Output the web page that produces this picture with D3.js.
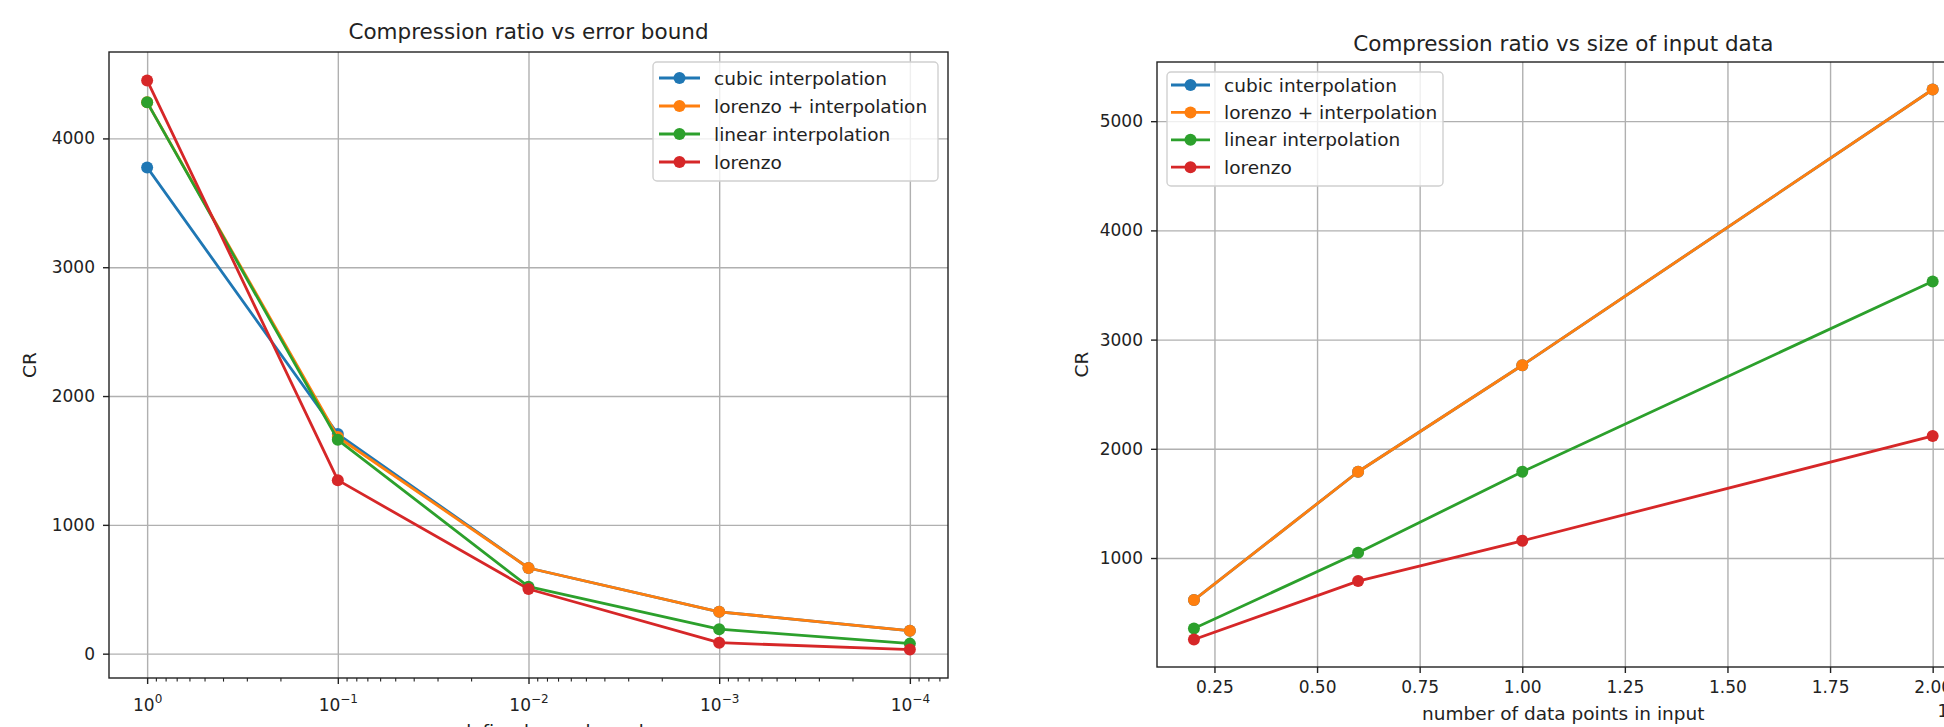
<!DOCTYPE html>
<html>
<head>
<meta charset="utf-8">
<script src="https://cdn.jsdelivr.net/npm/d3@7"></script>
<style>
  html, body { margin: 0; padding: 0; background: #fff; }
  svg { display: block; font-family: "DejaVu Sans", sans-serif; }
</style>
</head>
<body>
<script>
// ---------------- DATA ----------------
const seriesNames = ["cubic interpolation", "lorenzo + interpolation", "linear interpolation", "lorenzo"];
const seriesColors = ["#1f77b4", "#ff7f0e", "#2ca02c", "#d62728"];

// Left panel: CR vs error bound
const errorBounds = [1, 0.1, 0.01, 0.001, 0.0001];
const errCubic   = [3775, 1705, 665, 325, 178];
const errLorInt  = [4280, 1682, 665, 325, 178];
const errLinear  = [4280, 1660, 520, 190, 78];
const errLorenzo = [4450, 1347, 502, 85, 32];
const errTicksX = [1, 0.1, 0.01, 0.001, 0.0001];
const errTickExp = ["0", "\u22121", "\u22122", "\u22123", "\u22124"];
const errTicksY = [0, 1000, 2000, 3000, 4000];

// Right panel: CR vs size of input data (x in units of 1e6)
const inputSizes = [0.2, 0.6, 1.0, 2.0];
const sizeCubic   = [615, 1790, 2765, 5290];
const sizeLorInt  = [615, 1790, 2765, 5290];
const sizeLinear  = [355, 1048, 1790, 3533];
const sizeLorenzo = [254, 789, 1158, 2117];
const sizeTicksX = [0.25, 0.5, 0.75, 1.0, 1.25, 1.5, 1.75, 2.0];
const sizeTicksY = [1000, 2000, 3000, 4000, 5000];

// ---------------- STYLE ----------------
const TXT = "#222";
const GRID = "#b0b0b0";
const TICK_FS = 17, LEG_FS = 18.5, TITLE_FS = 21.5, LABEL_FS = 18.5;
const MARK_R = 6;

const svg = d3.select("body").append("svg").attr("width", 1944).attr("height", 727);

function yDomain(all) {
  const mn = d3.min(all), mx = d3.max(all), m = (mx - mn) * 0.05;
  return [mn - m, mx + m];
}

function drawPanel(cfg) {
  const g = svg.append("g");
  const { x, y, left, right, top, bottom } = cfg;

  // gridlines
  g.append("g").attr("transform", `translate(0,${bottom})`)
    .call(d3.axisBottom(x).tickValues(cfg.xTicks).tickSize(-(bottom - top)).tickFormat(""))
    .call(s => s.select(".domain").remove())
    .call(s => s.selectAll("line").attr("stroke", GRID).attr("stroke-width", 1.4));
  g.append("g").attr("transform", `translate(${left},0)`)
    .call(d3.axisLeft(y).tickValues(cfg.yTicks).tickSize(-(right - left)).tickFormat(""))
    .call(s => s.select(".domain").remove())
    .call(s => s.selectAll("line").attr("stroke", GRID).attr("stroke-width", 1.4));

  // series
  const line = d3.line().x(d => x(d[0])).y(d => y(d[1]));
  cfg.series.forEach((vals, i) => {
    const pts = cfg.xs.map((xv, j) => [xv, vals[j]]);
    g.append("path").datum(pts).attr("d", line)
      .attr("fill", "none").attr("stroke", seriesColors[i]).attr("stroke-width", 2.8)
      .attr("stroke-linejoin", "round").attr("stroke-linecap", "square");
    g.selectAll(null).data(pts).join("circle")
      .attr("cx", d => x(d[0])).attr("cy", d => y(d[1])).attr("r", MARK_R)
      .attr("fill", seriesColors[i]);
  });

  // frame
  g.append("rect").attr("x", left).attr("y", top).attr("width", right - left).attr("height", bottom - top)
    .attr("fill", "none").attr("stroke", TXT).attr("stroke-width", 1.4);

  // y axis ticks + labels
  g.append("g").attr("transform", `translate(${left},0)`)
    .call(d3.axisLeft(y).tickValues(cfg.yTicks).tickSize(6).tickPadding(8).tickFormat(d3.format("d")))
    .call(s => s.select(".domain").remove())
    .call(s => s.selectAll("line").attr("stroke", TXT).attr("stroke-width", 1.4))
    .call(s => s.selectAll("text").attr("fill", TXT).attr("font-size", TICK_FS)
      .attr("font-family", "DejaVu Sans"));

  // title
  g.append("text").attr("x", (left + right) / 2).attr("y", cfg.titleY)
    .attr("text-anchor", "middle").attr("font-size", TITLE_FS).attr("fill", TXT).text(cfg.title);
  // y label
  g.append("text").attr("transform", `translate(${cfg.yLabelX},${(top + bottom) / 2}) rotate(-90)`)
    .attr("text-anchor", "middle").attr("dominant-baseline", "central")
    .attr("font-size", LABEL_FS).attr("fill", TXT).text("CR");
  // x label
  g.append("text").attr("x", (left + right) / 2).attr("y", cfg.xLabelY)
    .attr("text-anchor", "middle").attr("font-size", LABEL_FS).attr("fill", TXT).text(cfg.xLabel);

  // legend
  const L = cfg.legend;
  g.append("rect").attr("x", L.x).attr("y", L.y).attr("width", L.w).attr("height", L.h)
    .attr("rx", 4).attr("fill", "#fff").attr("fill-opacity", 0.8)
    .attr("stroke", "#d0d0d0").attr("stroke-width", 1.4);
  seriesNames.forEach((name, i) => {
    const cy = L.y + L.row0 + i * L.pitch;
    g.append("line").attr("x1", L.x + L.h0).attr("x2", L.x + L.h1).attr("y1", cy).attr("y2", cy)
      .attr("stroke", seriesColors[i]).attr("stroke-width", 2.8);
    g.append("circle").attr("cx", L.x + (L.h0 + L.h1) / 2).attr("cy", cy).attr("r", MARK_R)
      .attr("fill", seriesColors[i]);
    g.append("text").attr("x", L.x + L.tx).attr("y", cy).attr("dominant-baseline", "central")
      .attr("font-size", LEG_FS).attr("fill", TXT).text(name);
  });
  return g;
}

// ---------------- LEFT PANEL ----------------
{
  const left = 109, right = 948, top = 52, bottom = 678;
  const x = d3.scaleLog().domain([Math.pow(10, 0.2), Math.pow(10, -4.2)]).range([left, right]);
  const y = d3.scaleLinear()
    .domain(yDomain([].concat(errCubic, errLorInt, errLinear, errLorenzo))).range([bottom, top]);
  const g = drawPanel({
    x, y, left, right, top, bottom,
    xs: errorBounds, series: [errCubic, errLorInt, errLinear, errLorenzo],
    xTicks: errTicksX, yTicks: errTicksY,
    title: "Compression ratio vs error bound", titleY: 39,
    yLabelX: 29, xLabel: "user defined error bound", xLabelY: 738,
    legend: { x: 653, y: 62, w: 285, h: 119, row0: 16, pitch: 28, h0: 6, h1: 47, tx: 61 }
  });
  // minor ticks on log axis
  const minors = [];
  for (let e = -5; e <= 0; e++) for (let k = 2; k <= 9; k++) {
    const v = k * Math.pow(10, e);
    if (v < Math.pow(10, 0.2) && v > Math.pow(10, -4.2)) minors.push(v);
  }
  g.append("g").attr("transform", `translate(0,${bottom})`)
    .call(d3.axisBottom(x).tickValues(minors).tickSize(3.6).tickFormat(""))
    .call(s => s.select(".domain").remove())
    .call(s => s.selectAll("line").attr("stroke", TXT).attr("stroke-width", 1.1));
  // major ticks with 10^n labels
  const ax = g.append("g").attr("transform", `translate(0,${bottom})`)
    .call(d3.axisBottom(x).tickValues(errTicksX).tickSize(6).tickFormat(""))
    .call(s => s.select(".domain").remove())
    .call(s => s.selectAll("line").attr("stroke", TXT).attr("stroke-width", 1.4));
  ax.selectAll(".tick").each(function (d, i) {
    const t = d3.select(this).append("text").attr("y", 33).attr("fill", TXT)
      .attr("text-anchor", "middle").attr("font-size", TICK_FS).attr("font-family", "DejaVu Sans");
    t.append("tspan").text("10");
    t.append("tspan").attr("dy", -8).attr("font-size", 12).text(errTickExp[i]);
  });
}

// ---------------- RIGHT PANEL ----------------
{
  const left = 1157, right = 1969.6, top = 62, bottom = 667;
  const xd = yDomain(inputSizes);
  const x = d3.scaleLinear().domain(xd).range([left, right]);
  const y = d3.scaleLinear()
    .domain(yDomain([].concat(sizeCubic, sizeLorInt, sizeLinear, sizeLorenzo))).range([bottom, top]);
  const g = drawPanel({
    x, y, left, right, top, bottom,
    xs: inputSizes, series: [sizeCubic, sizeLorInt, sizeLinear, sizeLorenzo],
    xTicks: sizeTicksX, yTicks: sizeTicksY,
    title: "Compression ratio vs size of input data", titleY: 51,
    yLabelX: 1081, xLabel: "number of data points in input", xLabelY: 720,
    legend: { x: 1167, y: 72, w: 276, h: 114, row0: 13, pitch: 27.4, h0: 4, h1: 43, tx: 57 }
  });
  g.append("g").attr("transform", `translate(0,${bottom})`)
    .call(d3.axisBottom(x).tickValues(sizeTicksX).tickSize(6).tickPadding(8).tickFormat(d3.format(".2f")))
    .call(s => s.select(".domain").remove())
    .call(s => s.selectAll("line").attr("stroke", TXT).attr("stroke-width", 1.4))
    .call(s => s.selectAll("text").attr("fill", TXT).attr("font-size", TICK_FS)
      .attr("font-family", "DejaVu Sans"));
  g.append("text").attr("x", right).attr("y", 717).attr("text-anchor", "end")
    .attr("font-size", TICK_FS).attr("fill", TXT).text("1e6");
}
</script>
</body>
</html>
